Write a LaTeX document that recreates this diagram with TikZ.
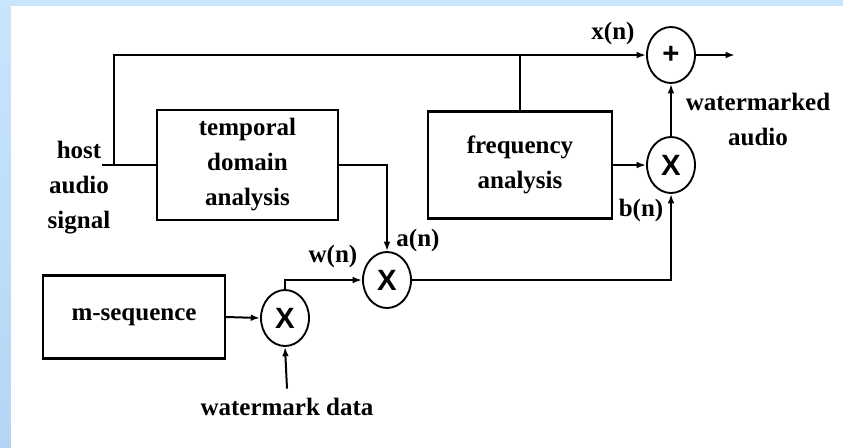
\documentclass[tikz,border=0pt]{standalone}
\usepackage{fontspec}
\setmainfont{Liberation Serif}
\setsansfont{Liberation Sans}
\usetikzlibrary{arrows.meta,shapes.geometric}

\definecolor{slidetop}{HTML}{C8E5FB}
\definecolor{slidebot}{HTML}{B3D5F5}

\begin{document}
\begin{tikzpicture}[x=0.75pt,y=-0.75pt,
  lbl/.style={font=\fontsize{18.75}{26.25}\selectfont\bfseries, inner sep=0pt, align=center},
  blockbox/.style={draw, line width=1.8pt, inner sep=0pt, align=center,
    font=\fontsize{18.75}{26.25}\selectfont\bfseries},
  mult/.style={draw, ellipse, line width=1.4pt, inner sep=0pt,
    minimum width=36pt, minimum height=42pt,
    font=\fontsize{22}{22}\selectfont\sffamily\bfseries},
  conn/.style={line width=1.5pt},
  arr/.style={conn, -{Latex[length=7pt,width=5pt]}}]

% slide background with white page
\useasboundingbox (0,0) rectangle (843,447);
\shade[top color=slidetop, bottom color=slidebot] (-5,-5) rectangle (850,455);
\fill[white] (11,6) rectangle (850,455);

% processing blocks
\node[blockbox, minimum width=181*0.75pt, minimum height=110*0.75pt] (temp) at (247.5,165) {temporal\\domain\\analysis};
\node[blockbox, minimum width=184*0.75pt, minimum height=107*0.75pt] (freq) at (520,165) {frequency\\analysis};
\node[blockbox, minimum width=182*0.75pt, minimum height=83*0.75pt] (mseq) at (134,317) {m-sequence};

% multipliers and adder
\node[mult] (m1) at (285,318) {X};
\node[mult] (m2) at (387,280) {X};
\node[mult] (m3) at (671,165) {X};
\node[mult] (add) at (671,55) {+};

% labels
\node[lbl] (host) at (79,188) {host\\audio\\signal};
\node[lbl] (xn) at (613,33) {x(n)};
\node[lbl] (an) at (418,240) {a(n)};
\node[lbl] (wn) at (333,256) {w(n)};
\node[lbl] (bn) at (641,210) {b(n)};
\node[lbl] (wmaudio) at (758,119) {watermarked\\audio};
\node[lbl] (wmdata) at (287,407) {watermark data};

% wire end points
\coordinate (hostin) at (102,165);
\coordinate (split) at (114,165);
\coordinate (outend) at (735,55);

% signal flow
\draw[conn] (hostin) -- (temp.west);
\draw[arr] (split) |- (add.west);
\draw[conn] (freq.north) -- (freq.north |- add.west);
\draw[arr] (temp.east) -| (m2.north);
\draw[arr] (freq.east) -- (m3.west);
\draw[arr] (m3.north) -- (add.south);
\draw[arr] (m2.east) -| (m3.south);
\draw[arr] (mseq.east) -- (m1.west);
\draw[arr] (m1.north) |- (m2.west);
\draw[arr] ([yshift=7pt]wmdata.north) -- (m1.south);
\draw[arr] (add.east) -- (outend);
\end{tikzpicture}
\end{document}
